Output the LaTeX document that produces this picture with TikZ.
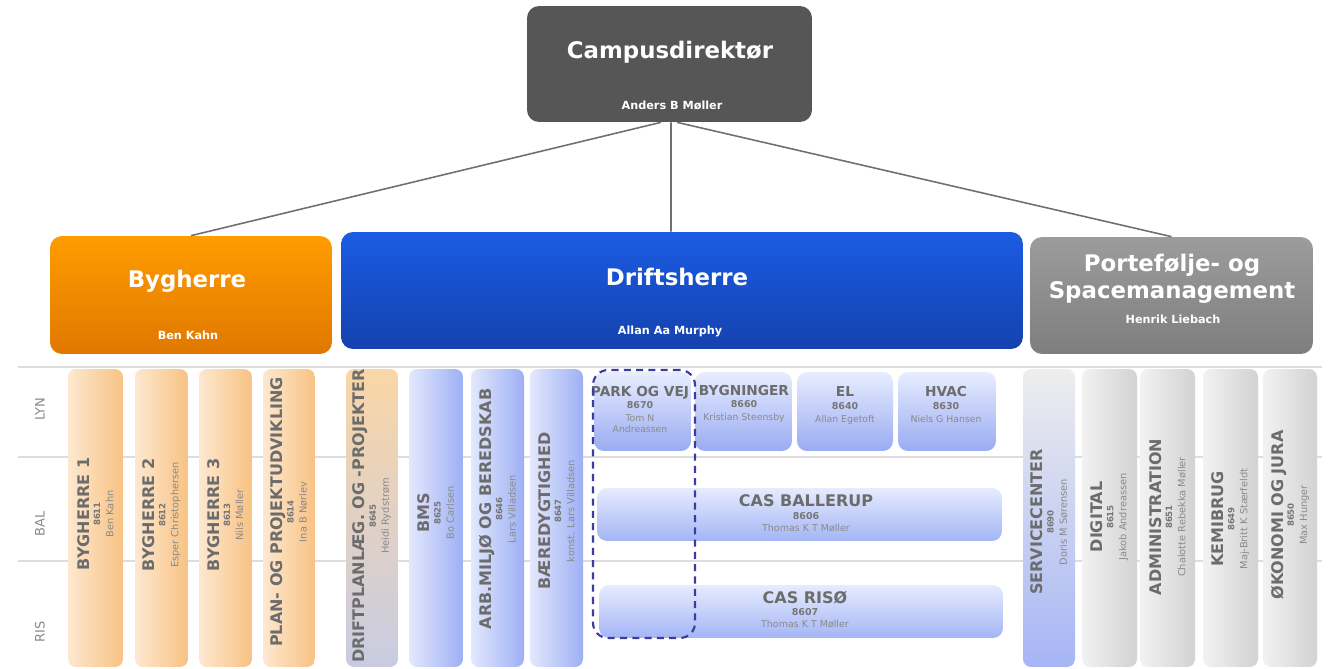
\documentclass[tikz,border=0pt]{standalone}
\usepackage{fontspec}
\setmainfont{DejaVu Sans}
\definecolor{campusgray}{HTML}{565656}
\definecolor{orTop}{HTML}{FF9C00}
\definecolor{orBot}{HTML}{E07800}
\definecolor{blTop}{HTML}{1B5BE3}
\definecolor{blBot}{HTML}{1542AE}
\definecolor{grTop}{HTML}{9C9C9C}
\definecolor{grBot}{HTML}{7E7E7E}
\definecolor{colOrL}{HTML}{FDE8CF}
\definecolor{colOrR}{HTML}{F8C283}
\definecolor{colBlL}{HTML}{E3E8FD}
\definecolor{colBlR}{HTML}{9DB0F4}
\definecolor{colGrL}{HTML}{F2F2F2}
\definecolor{colGrR}{HTML}{D2D2D2}
\definecolor{dpTop}{HTML}{FAD6A6}
\definecolor{dpBot}{HTML}{C8CCE2}
\definecolor{scTop}{HTML}{EEEEEE}
\definecolor{scBot}{HTML}{A6B5F5}
\definecolor{lynTop}{HTML}{E8EDFE}
\definecolor{lynBot}{HTML}{99ABF3}
\definecolor{casTop}{HTML}{E6EBFE}
\definecolor{casBot}{HTML}{A3B5F5}
\definecolor{dashblue}{HTML}{3C3CA0}
\definecolor{txtT}{HTML}{6C6C6C}
\definecolor{txtN}{HTML}{767676}
\definecolor{txtP}{HTML}{8A8A8A}
\definecolor{rowgray}{HTML}{DDDDDD}
\definecolor{conngray}{HTML}{707070}
\newcommand\coltitle{\fontsize{9.1}{6.2}\selectfont\bfseries\color{txtT}}
\newcommand\colnum{\fontsize{4.9}{6.2}\selectfont\bfseries\color{txtN}}
\newcommand\colname{\fontsize{5.6}{6.2}\selectfont\mdseries\color{txtP}}
\newcommand\lyntitle{\fontsize{7.8}{6.2}\selectfont\bfseries\color{txtT}}
\newcommand\lynnum{\fontsize{5.4}{6.2}\selectfont\bfseries\color{txtN}}
\newcommand\lynname{\fontsize{5.3}{6.2}\selectfont\mdseries\color{txtP}}
\newcommand\castitle{\fontsize{9.1}{6.8}\selectfont\bfseries\color{txtT}}
\newcommand\casnum{\fontsize{5.4}{6.8}\selectfont\bfseries\color{txtN}}
\newcommand\casname{\fontsize{5.4}{6.8}\selectfont\mdseries\color{txtP}}
\begin{document}
\lineskiplimit=-20pt
\lineskip=0pt
\begin{tikzpicture}[x=0.02cm,y=-0.02cm,
  hdr/.style={rounded corners=0.24cm, inner sep=0pt, draw=none},
  htitle/.style={text=white, font=\fontsize{13}{15.3}\selectfont\bfseries, align=center, inner sep=0pt},
  hsub/.style={text=white, font=\fontsize{6.4}{7.5}\selectfont\bfseries, inner sep=0pt},
  conn/.style={draw=conngray, line width=0.9pt},
  rowline/.style={draw=rowgray, line width=1pt},
  rowlab/.style={rotate=90, text=txtP, font=\fontsize{7.4}{8}\selectfont, inner sep=0pt},
  colbox/.style={rounded corners=0.16cm, inner sep=0pt, draw=none, minimum height=5.96cm},
  colOr/.style={colbox, left color=colOrL, right color=colOrR},
  colBl/.style={colbox, left color=colBlL, right color=colBlR},
  colGr/.style={colbox, left color=colGrL, right color=colGrR},
  colDp/.style={colbox, top color=dpTop, bottom color=dpBot},
  colSc/.style={colbox, top color=scTop, bottom color=scBot},
  coltext/.style={rotate=90, align=center, inner sep=0pt, font=\fontsize{5.6}{6.2}\selectfont},
  lynbox/.style={rounded corners=0.2cm, inner sep=0pt, draw=none, top color=lynTop, bottom color=lynBot, minimum height=1.58cm},
  casbox/.style={rounded corners=0.2cm, inner sep=0pt, draw=none, top color=casTop, bottom color=casBot, minimum height=1.06cm},
  lyntext/.style={align=center, inner sep=0pt, font=\fontsize{5.4}{6.2}\selectfont},
  castext/.style={align=center, inner sep=0pt, font=\fontsize{5.4}{6.8}\selectfont},
  dashbox/.style={draw=dashblue, line width=1.2pt, dash pattern=on 4pt off 3pt, rounded corners=0.3cm, inner sep=0pt, fill=none}
]
\useasboundingbox (0,0) rectangle (1329,669);
\fill[white] (0,0) rectangle (1329,669);

% row grid
\draw[rowline] (18,367) -- (1322,367);
\draw[rowline] (18,457) -- (1322,457);
\draw[rowline] (18,561) -- (1322,561);
\node[rowlab] (lyn) at (40,409) {LYN};
\node[rowlab] (bal) at (40,524) {BAL};
\node[rowlab] (ris) at (40,632) {RIS};

% header boxes
\node[hdr, fill=campusgray, minimum width=5.7cm, minimum height=2.32cm] (campus) at (669.5,64) {};
\node[hdr, top color=orTop, bottom color=orBot, minimum width=5.64cm, minimum height=2.36cm] (byg) at (191,295) {};
\node[hdr, top color=blTop, bottom color=blBot, minimum width=13.64cm, minimum height=2.34cm] (drift) at (682,290.5) {};
\node[hdr, top color=grTop, bottom color=grBot, minimum width=5.66cm, minimum height=2.34cm] (port) at (1171.5,295.5) {};

\node[htitle] (campusT) at (670,52) {Campusdirektør};
\node[hsub] (campusS) at (672,105) {Anders B Møller};
\node[htitle] (bygT) at (187,281) {Bygherre};
\node[hsub] (bygS) at (188,335) {Ben Kahn};
\node[htitle] (driftT) at (677,277) {Driftsherre};
\node[hsub] (driftS) at (670,331) {Allan Aa Murphy};
\node[htitle] (portT) at (1172,278.5) {Portefølje- og\\Spacemanagement};
\node[hsub] (portS) at (1173,319) {Henrik Liebach};

% connectors
\draw[conn] ([xshift=-0.17cm]campus.south) -- (byg.north);
\draw[conn] ([xshift=0.03cm]campus.south) -- ([xshift=-0.22cm]drift.north);
\draw[conn] ([xshift=0.15cm]campus.south) -- (port.north);

% columns
\node[colOr, minimum width=1.10cm] (c1) at (95.5,518) {};
\node[colOr, minimum width=1.06cm] (c2) at (161.5,518) {};
\node[colOr, minimum width=1.06cm] (c3) at (225.5,518) {};
\node[colOr, minimum width=1.04cm] (c4) at (289,518) {};
\node[colDp, minimum width=1.04cm] (c5) at (372,518) {};
\node[colBl, minimum width=1.08cm] (c6) at (436,518) {};
\node[colBl, minimum width=1.06cm] (c7) at (497.5,518) {};
\node[colBl, minimum width=1.06cm] (c8) at (556.5,518) {};
\node[colSc, minimum width=1.04cm] (c9) at (1049,518) {};
\node[colGr, minimum width=1.10cm] (c10) at (1109.5,518) {};
\node[colGr, minimum width=1.10cm] (c11) at (1167.5,518) {};
\node[colGr, minimum width=1.10cm] (c12) at (1230.5,518) {};
\node[colGr, minimum width=1.08cm] (c13) at (1290,518) {};

\node[coltext] (t1) at (95.5,514) {\coltitle BYGHERRE 1\\ \colnum 8611\\[1.3pt] \colname Ben Kahn};
\node[coltext] (t2) at (161.5,515) {\coltitle BYGHERRE 2\\ \colnum 8612\\[1.3pt] \colname Esper Christophersen};
\node[coltext] (t3) at (225.5,515) {\coltitle BYGHERRE 3\\ \colnum 8613\\[1.3pt] \colname Nils Møller};
\node[coltext] (t4) at (289,512) {\coltitle PLAN- OG PROJEKTUDVIKLING\\ \colnum 8614\\[1.3pt] \colname Ina B Nørlev};
\node[coltext] (t5) at (372,516) {\coltitle DRIFTPLANLÆG. OG -PROJEKTER\\ \colnum 8645\\[1.3pt] \colname Heidi Rydstrøm};
\node[coltext] (t6) at (436,513) {\coltitle BMS\\ \colnum 8625\\[1.3pt] \colname Bo Carlsen};
\node[coltext] (t7) at (497.5,509) {\coltitle ARB.MILJØ OG BEREDSKAB\\ \colnum 8646\\[1.3pt] \colname Lars Villadsen};
\node[coltext] (t8) at (556.5,511) {\coltitle BÆREDYGTIGHED\\ \colnum 8647\\[1.3pt] \colname konst. Lars Villadsen};
\node[coltext] (t9) at (1049,522) {\coltitle SERVICECENTER\\ \colnum 8690\\[1.3pt] \colname Doris M Sørensen};
\node[coltext] (t10) at (1109.5,517) {\coltitle DIGITAL\\ \colnum 8615\\[1.3pt] \colname Jakob Andreassen};
\node[coltext] (t11) at (1167.5,517) {\coltitle ADMINISTRATION\\ \colnum 8651\\[1.3pt] \colname Chalotte Rebekka Møller};
\node[coltext] (t12) at (1230.5,519) {\coltitle KEMIBRUG\\ \colnum 8649\\[1.3pt] \colname Maj-Britt K Stærfeldt};
\node[coltext] (t13) at (1290,515) {\coltitle ØKONOMI OG JURA\\ \colnum 8650\\[1.3pt] \colname Max Hunger};

% LYN boxes
\node[lynbox, minimum width=1.94cm] (park) at (642.5,411.5) {};
\node[lynbox, minimum width=1.94cm] (bygn) at (743.5,411.5) {};
\node[lynbox, minimum width=1.92cm] (el) at (845,411.5) {};
\node[lynbox, minimum width=1.96cm] (hvac) at (947,411.5) {};
\node[lyntext] (parkT) at (640,409.5) {\lyntitle PARK OG VEJ\\[0.9pt] \lynnum 8670\\[1.1pt] \lynname Tom N\\ \lynname Andreassen};
\node[lyntext] (bygnT) at (744,404) {\lyntitle BYGNINGER\\[0.9pt] \lynnum 8660\\[1.1pt] \lynname Kristian Steensby};
\node[lyntext] (elT) at (845,405.5) {\lyntitle EL\\[0.9pt] \lynnum 8640\\[1.1pt] \lynname Allan Egetoft};
\node[lyntext] (hvacT) at (946,404.5) {\lyntitle HVAC\\[0.9pt] \lynnum 8630\\[1.1pt] \lynname Niels G Hansen};

% CAS bars
\node[casbox, minimum width=8.1cm] (casbal) at (799.5,514.5) {};
\node[casbox, minimum width=8.08cm] (casris) at (801,611.5) {};
\node[castext] (casbalT) at (806,513) {\castitle CAS BALLERUP\\[0.4pt] \casnum 8606\\ \casname Thomas K T Møller};
\node[castext] (casrisT) at (805,609.5) {\castitle CAS RISØ\\[0.4pt] \casnum 8607\\ \casname Thomas K T Møller};

% dashed group
\node[dashbox, minimum width=2.04cm, minimum height=5.36cm] (grp) at (644,504) {};
\end{tikzpicture}
\end{document}
